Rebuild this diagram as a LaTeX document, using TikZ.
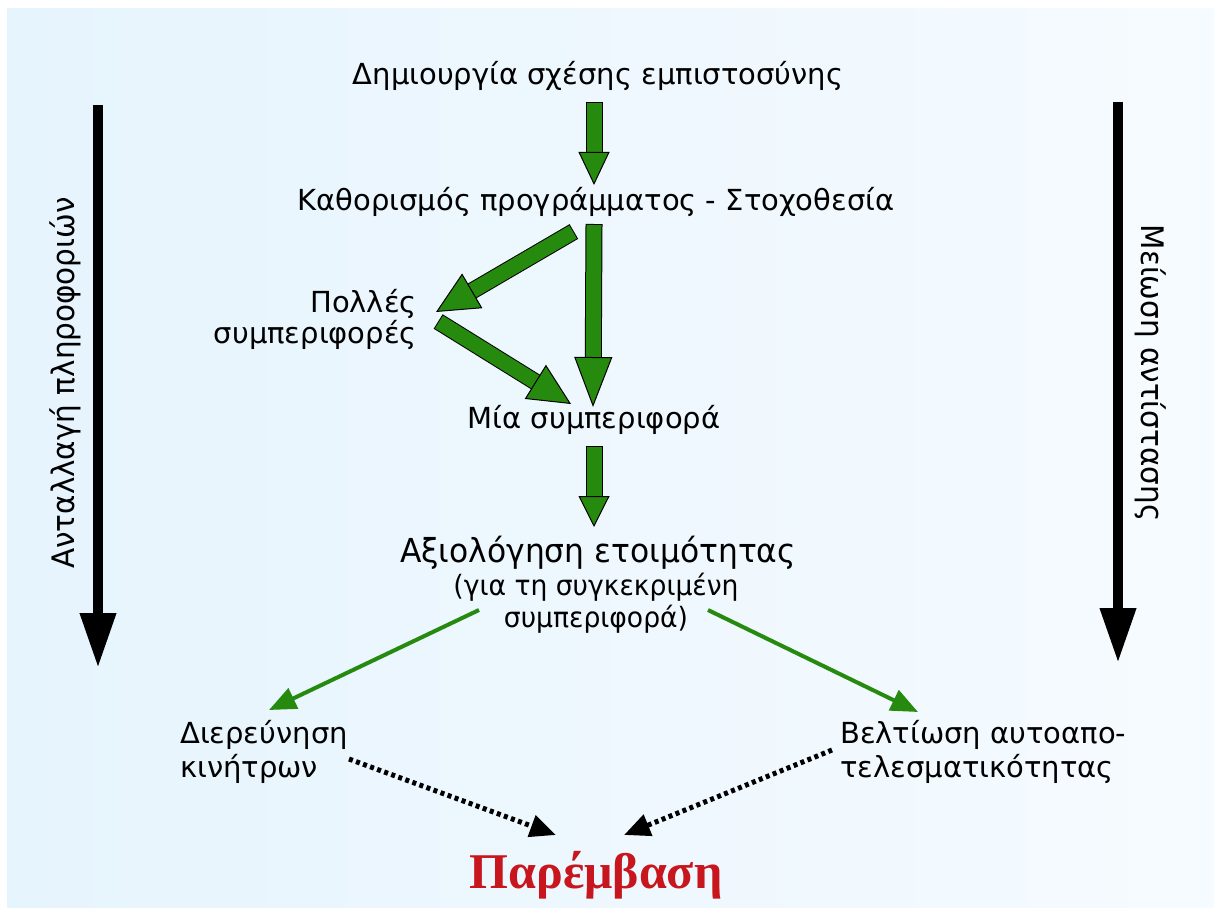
\documentclass[tikz,border=0pt]{standalone}
\usepackage{fontspec}
\setmainfont{DejaVu Sans}
\newfontfamily\narrowfont[FakeStretch=0.95]{DejaVu Sans}
\newfontfamily\titlefont{Liberation Serif}
\usetikzlibrary{calc}
\usetikzlibrary{arrows.meta}

\definecolor{leaf}{RGB}{38,138,14}
\definecolor{wine}{RGB}{200,22,30}
\definecolor{skyleft}{RGB}{230,244,253}
\definecolor{skyright}{RGB}{246,251,255}

\begin{document}
\begin{tikzpicture}[
            x=1pt, y=-1pt,
            stage/.style={
                inner sep=0pt,
                anchor=base,
                font=\fontsize{29}{33}\selectfont
            },
            narrow/.style={
                inner sep=0pt,
                anchor=base,
                font=\narrowfont\fontsize{31}{36}\selectfont
            },
            fatarrow/.style 2 args={
                line width=15pt,
                draw=leaf,
                preaction={draw=black, -, line width=17pt,
                    shorten >={#1-6pt}, shorten <=-1pt},
                -{Triangle[length=#1, width=#2, line width=1pt,
                    color=black, fill=leaf]}
            },
            thinarrow/.style={
                line width=4pt,
                draw=leaf,
                -{Triangle[length=27pt, width=22pt]}
            },
            dotarrow/.style={
                line width=5pt,
                dash pattern=on 4pt off 3.5pt,
                -{Triangle[length=26pt, width=22pt]}
            },
            sidearrow/.style={
                line width=10pt,
                -{Triangle[length=55pt, width=34pt]}
            }
        ]

        \useasboundingbox (0,0) rectangle (1214,912);
        \shade[left color=skyleft, right color=skyright]
            (7,9) rectangle (1214,907);

        % central chain
        \node[stage] (trust) at (598,85) {Δημιουργία σχέσης εμπιστοσύνης};
        \node[stage] (program) at (596,210)
            {Καθορισμός προγράμματος - Στοχοθεσία};
        \node[stage, anchor=base east, align=right,
            font=\fontsize{29}{31}\selectfont] (many) at (417,343)
            {Πολλές\\συμπεριφορές};
        \node[stage] (one) at (594,428) {Μία συμπεριφορά};
        \node[narrow, font=\narrowfont\fontsize{33}{36}\selectfont]
            (readiness) at (598,562) {Αξιολόγηση ετοιμότητας};
        \node[narrow, align=center,
            font=\narrowfont\fontsize{28}{32}\selectfont] (specific) at (596,627)
            {(για τη συγκεκριμένη\\συμπεριφορά)};

        % two ways out
        \node[stage, anchor=base west, align=left,
            font=\fontsize{29}{34}\selectfont] (motives) at (180,777)
            {Διερεύνηση\\κινήτρων};
        \node[stage, anchor=base west, align=left,
            font=\fontsize{29}{34}\selectfont] (efficacy) at (840,777)
            {Βελτίωση αυτοαπο-\\τελεσματικότητας};

        \node[stage, text=wine, font=\titlefont\bfseries\fontsize{50}{56}\selectfont]
            (intervention) at (596,888) {Παρέμβαση};

        % side labels
        \coordinate (infotop) at (98,105);
        \coordinate (infoend) at (98,668);
        \coordinate (resisttop) at (1118,102);
        \coordinate (resistend) at (1118,663);
        \node[narrow, rotate=90] (info) at (74,383) {Ανταλλαγή πληροφοριών};
        \node[narrow, rotate=-90] (resist) at (1141,373) {Μείωση αντίστασης};

        \draw[sidearrow] (infotop) -- (infoend);
        \draw[sidearrow] (resisttop) -- (resistend);

        \draw[fatarrow={33pt}{31pt}] ($(trust.base)+(-4,18)$) -- ($(program.base)+(-2,-25)$);
        \draw[fatarrow={42pt}{40pt}] ($(program.base)+(-23,22)$) -- ($(many.base east)+(19,-31)$);
        \draw[fatarrow={50pt}{38pt}] ($(program.base)+(-2,15)$) -- ($(one.base)+(-1,-21)$);
        \draw[fatarrow={42pt}{40pt}] ($(many.base east)+(22,-21)$) -- ($(one.base)+(-23,-24)$);
        \draw[fatarrow={31pt}{31pt}] ($(one.base)+(0,19)$) -- ($(readiness.base)+(-4,-35)$);

        \draw[thinarrow] ($(specific.base)+(-117,-17)$) -- ($(motives.base west)+(89,-67)$);
        \draw[thinarrow] ($(specific.base)+(112,-17)$) -- ($(efficacy.base west)+(78,-65)$);

        \draw[dotarrow] ($(motives.base west)+(169,-18)$) -- ($(intervention.base)+(-40,-53)$);
        \draw[dotarrow] ($(efficacy.base west)+(-8,-27)$) -- ($(intervention.base)+(28,-53)$);

    \end{tikzpicture}
\end{document}
